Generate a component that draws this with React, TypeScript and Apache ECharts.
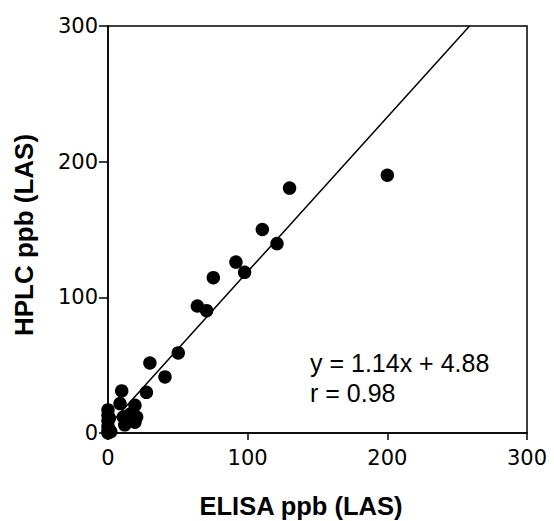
import React, { useEffect, useRef } from "react";
import * as echarts from "echarts";

const elisaX: number[] = [200, 130, 110.5, 121, 91.6, 97.8, 75.4, 64, 70.6, 50.3, 30, 40.8, 27.5, 9.8, 8.6, 19.3, 20.5, 19.3, 11, 14, 12, 16, 0, 0, 0, 0, 0, 0, 2, 1];
const hplcY: number[] = [190, 180.5, 150, 139.6, 126, 118.4, 114.5, 93.6, 90.2, 59, 51.6, 41.3, 30, 31, 21.7, 20.4, 11.8, 8, 11.8, 10, 6, 14, 17, 13, 9, 5, 2, 0, 1, 11];
const fitSlope = [1.14];
const fitIntercept = [4.88];
const xTicks = [0, 100, 200, 300];
const yTicks = [0, 100, 200, 300];
const annotationLines = ["y = 1.14x + 4.88", "r = 0.98"];
const xTitle = "ELISA ppb (LAS)";
const yTitle = "HPLC ppb (LAS)";

export default function App() {
  const ref = useRef<HTMLDivElement>(null);
  useEffect(() => {
    if (!ref.current) return;
    const chart = echarts.init(ref.current, undefined, { renderer: "svg" });
    const pts = elisaX.map((x, i) => [x, hplcY[i]]);
    const yMax = yTicks[yTicks.length - 1];
    const xEnd = (yMax - fitIntercept[0]) / fitSlope[0];
    const linePts = [
      [0, fitIntercept[0]],
      [xEnd, fitSlope[0] * xEnd + fitIntercept[0]],
    ];
    const labelFont = { fontFamily: "DejaVu Sans", fontSize: 21, color: "#000" };
    chart.setOption({
      animation: false,
      grid: {
        left: 108,
        top: 26,
        width: 419,
        height: 407,
        show: true,
        borderColor: "#000",
        borderWidth: 1.5,
        backgroundColor: "transparent",
      },
      xAxis: {
        type: "value",
        min: xTicks[0],
        max: xTicks[xTicks.length - 1],
        interval: 100,
        axisLine: { show: true, onZero: false, lineStyle: { color: "#000", width: 1.5 } },
        axisTick: { show: true, length: 7, lineStyle: { color: "#000", width: 1.5 } },
        splitLine: { show: false },
        axisLabel: { ...labelFont, margin: 14 },
      },
      yAxis: {
        type: "value",
        min: yTicks[0],
        max: yTicks[yTicks.length - 1],
        interval: 100,
        axisLine: { show: true, onZero: false, lineStyle: { color: "#000", width: 1.5 } },
        axisTick: { show: true, length: 9, lineStyle: { color: "#000", width: 1.5 } },
        splitLine: { show: false },
        axisLabel: { ...labelFont, margin: 10 },
      },
      series: [
        {
          type: "line",
          data: linePts,
          symbol: "none",
          lineStyle: { color: "#000", width: 1.5 },
          silent: true,
          z: 2,
        },
        {
          type: "scatter",
          data: pts,
          symbol: "circle",
          symbolSize: 13.5,
          itemStyle: { color: "#000", opacity: 1 },
          z: 3,
        },
      ],
      graphic: [
        {
          type: "text",
          x: 301,
          y: 506,
          style: {
            text: xTitle,
            align: "center",
            verticalAlign: "middle",
            font: "bold 25.5px 'Liberation Sans', Arial, sans-serif",
            fill: "#000",
          },
        },
        {
          type: "text",
          x: 23.5,
          y: 235,
          rotation: Math.PI / 2,
          style: {
            text: yTitle,
            align: "center",
            verticalAlign: "middle",
            font: "bold 26px 'Liberation Sans', Arial, sans-serif",
            fill: "#000",
          },
        },
        {
          type: "text",
          x: 310,
          y: 363,
          style: {
            text: annotationLines[0],
            align: "left",
            verticalAlign: "middle",
            font: "25px 'Liberation Sans', Arial, sans-serif",
            fill: "#000",
          },
        },
        {
          type: "text",
          x: 310,
          y: 393,
          style: {
            text: annotationLines[1],
            align: "left",
            verticalAlign: "middle",
            font: "25px 'Liberation Sans', Arial, sans-serif",
            fill: "#000",
          },
        },
      ],
    });
    return () => chart.dispose();
  }, []);
  return (
    <div
      ref={ref}
      style={{ position: "fixed", left: 0, top: 0, width: 554, height: 521, background: "#fff" }}
    />
  );
}
